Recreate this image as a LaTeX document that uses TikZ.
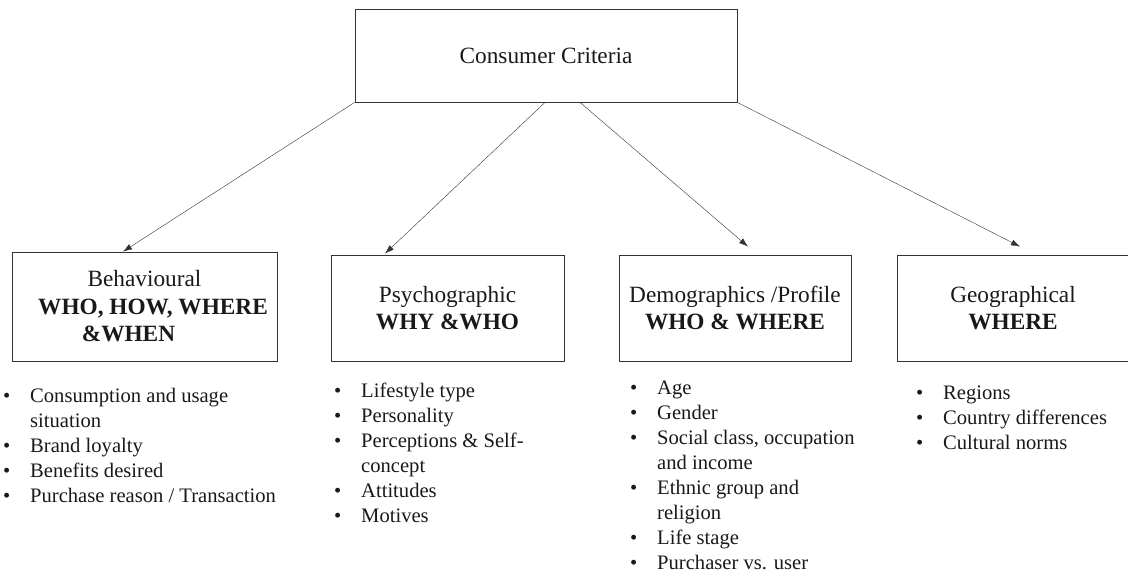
\documentclass[tikz,border=0pt]{standalone}
\usepackage{fontspec}
\setmainfont{Liberation Serif}
\usetikzlibrary{arrows.meta}

\newcommand{\itm}[1]{\makebox[27pt][l]{\textbullet}#1}
\newcommand{\cnt}[1]{\hspace*{27pt}#1}

\begin{document}
\begin{tikzpicture}[x=1pt,y=-1pt,>={Latex[length=9pt,width=6pt]}]
  \tikzset{
    crit/.style={
      draw=black!80,
      line width=0.8pt,
      align=center,
      inner sep=0pt,
      text=black!90,
      font=\fontsize{23.3}{27.5}\selectfont
    },
    items/.style={
      anchor=base west,
      align=left,
      inner sep=0pt,
      text=black!90,
      font=\fontsize{20.6}{25}\selectfont
    }
  }
  \path[use as bounding box, clip] (0,0) rectangle (1128,576);

  \node[crit, minimum width=382pt, minimum height=93pt] (consumer) at (546,55.5) {Consumer Criteria};

  \node[crit, minimum width=265pt, minimum height=109pt] (behav) at (144.5,306.5) {Behavioural\\\hspace*{17pt}\textbf{WHO, HOW, WHERE}\\\textbf{\&WHEN}\hspace*{32pt}};
  \node[crit, minimum width=233pt, minimum height=106pt] (psycho) at (447.5,308) {Psychographic\\\textbf{WHY \&WHO}};
  \node[crit, minimum width=232pt, minimum height=106pt] (demo) at (735,308) {Demographics /Profile\\\textbf{WHO \& WHERE}};
  \node[crit, minimum width=232pt, minimum height=106pt] (geo) at (1013,308) {Geographical\\\textbf{WHERE}};

  % lists are placed by the baseline of their last line
  \node[items] (behavlist) at (3,502) {\itm{Consumption and usage}\\\cnt{situation}\\\itm{Brand loyalty}\\\itm{Benefits desired}\\\itm{Purchase reason / Transaction}};
  \node[items] (psycholist) at (334,522) {\itm{Lifestyle type}\\\itm{Personality}\\\itm{Perceptions \& Self-}\\\cnt{concept}\\\itm{Attitudes}\\\itm{Motives}};
  \node[items] (demolist) at (630,569) {\itm{Age}\\\itm{Gender}\\\itm{Social class, occupation}\\\cnt{and income}\\\itm{Ethnic group and}\\\cnt{religion}\\\itm{Life stage}\\\itm{Purchaser vs. user}};
  \node[items] (geolist) at (916,449) {\itm{Regions}\\\itm{Country differences}\\\itm{Cultural norms}};

  \draw[->, black!80] (consumer.south west) -- ([xshift=-21.5pt]behav.north);
  \draw[->, black!80] ([xshift=-1pt]consumer.south) -- ([xshift=-62.5pt,yshift=1pt]psycho.north);
  \draw[->, black!80] ([xshift=34pt]consumer.south) -- ([xshift=13pt,yshift=8pt]demo.north);
  \draw[->, black!80] (consumer.south east) -- ([xshift=7pt,yshift=8pt]geo.north);
\end{tikzpicture}
\end{document}
